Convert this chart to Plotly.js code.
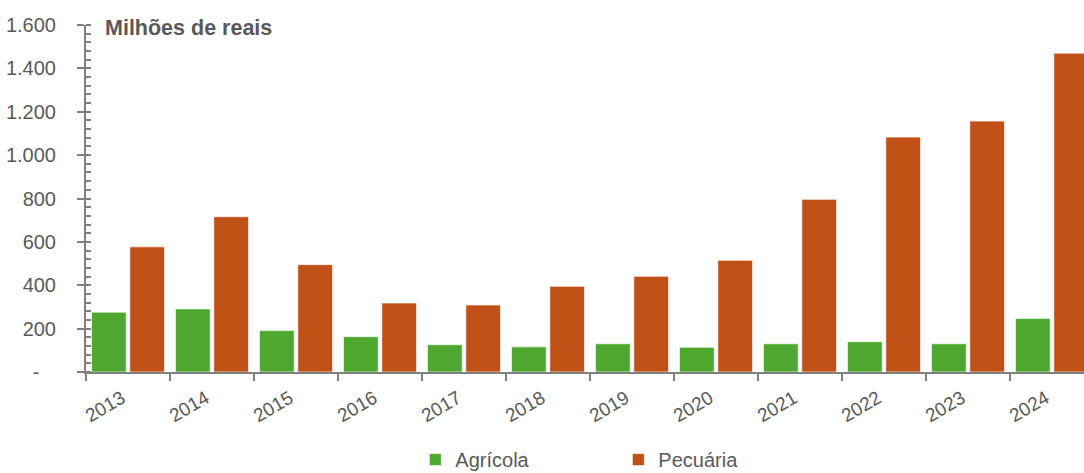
<!DOCTYPE html>
<html>
<head>
<meta charset="utf-8">
<script src="https://cdn.plot.ly/plotly-3.0.1.min.js"></script>
<style>html,body{margin:0;padding:0;background:#fff;overflow:hidden}#chart{width:1084px;height:473px}</style>
</head>
<body>
<div id="chart"></div>
<script>
const years = ["2013","2014","2015","2016","2017","2018","2019","2020","2021","2022","2023","2024"];
const agricola = [276, 291, 191, 163, 126, 116, 130, 114, 130, 140, 130, 247];
const pecuaria = [577, 716, 495, 318, 309, 395, 441, 515, 796, 1083, 1157, 1470];
const yTickVals = [0, 200, 400, 600, 800, 1000, 1200, 1400, 1600];
const yTickText = ["-\u00a0\u00a0\u00a0", "200", "400", "600", "800", "1.000", "1.200", "1.400", "1.600"];
const seriesNames = ["Agrícola", "Pecuária"];
const unitLabel = "Milhões de reais";

const FONT = '"Liberation Sans", Arial, sans-serif';
const GRAY = '#595959';
const AXIS = '#808080';

const traces = [
  {type:'bar', name: seriesNames[0], x: years, y: agricola,
   marker:{color:'#4EA72E', line:{color:'rgba(255,255,255,0.65)', width:1}}, hoverinfo:'x+y'},
  {type:'bar', name: seriesNames[1], x: years, y: pecuaria,
   marker:{color:'#C05016', line:{color:'rgba(255,255,255,0.65)', width:1}}, hoverinfo:'x+y'}
];

const layout = {
  width:1084, height:473,
  margin:{l:86, r:0, t:25, b:101, autoexpand:false},
  paper_bgcolor:'#fff', plot_bgcolor:'#fff',
  font:{family:FONT, color:GRAY, size:19},
  barmode:'group', bargap:0.087, bargroupgap:0.095,
  showlegend:true,
  legend:{orientation:'h', x:0.33, xanchor:'left', y:-0.2525, yanchor:'middle',
          font:{family:FONT, size:20, color:GRAY}, entrywidth:158, entrywidthmode:'pixels',
          itemclick:false, itemdoubleclick:false},
  xaxis:{type:'category', range:[-0.5, 11.381], showline:true, linecolor:AXIS, linewidth:2,
         ticks:'outside', ticklen:7, tickwidth:2, tickcolor:AXIS, tickson:'boundaries',
         tickangle:-30, tickfont:{family:FONT, size:19, color:GRAY},
         ticklabelshift:-6, ticklabelstandoff:6,
         showgrid:false, zeroline:false, fixedrange:true},
  yaxis:{range:[0,1600], tickvals:yTickVals, ticktext:yTickText,
         showline:true, linecolor:AXIS, linewidth:2,
         ticks:'outside', ticklen:7, tickwidth:2, tickcolor:AXIS,
         ticklabelstandoff:17,
         tickfont:{family:FONT, size:20, color:GRAY},
         minor:{dtick:40, tick0:0, ticks:'inside', ticklen:5, tickwidth:2, tickcolor:AXIS, showgrid:false},
         showgrid:false, zeroline:false, fixedrange:true},
  yaxis2:{range:[0,1600], overlaying:'y', anchor:'x', side:'left', tickvals:yTickVals,
          showticklabels:false, ticks:'inside', ticklen:5, tickwidth:2, tickcolor:AXIS,
          showline:false, showgrid:false, zeroline:false, fixedrange:true},
  annotations:[{text:'<b>'+unitLabel+'</b>', xref:'paper', yref:'paper', x:(103-86)/998, y:1-(28-25)/347,
                xanchor:'left', yanchor:'middle', showarrow:false,
                font:{family:FONT, size:21.5, color:GRAY}}]
};

Plotly.newPlot('chart', traces, layout, {displayModeBar:false});
</script>
</body>
</html>
